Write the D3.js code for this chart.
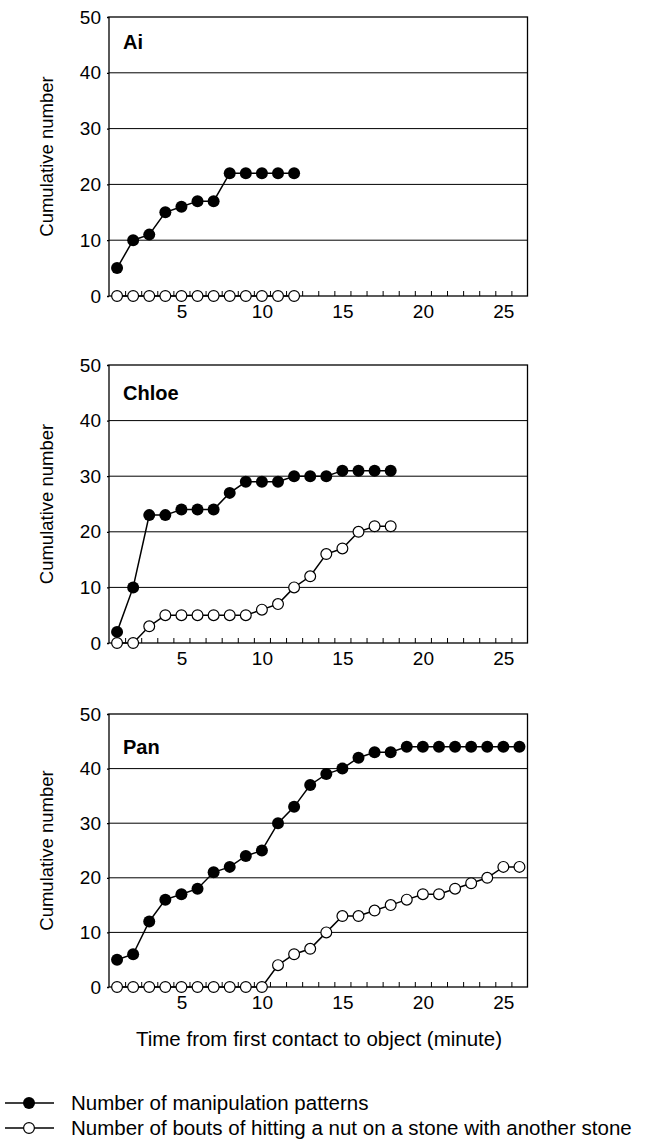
<!DOCTYPE html>
<html>
<head>
<meta charset="utf-8">
<script src="https://cdn.jsdelivr.net/npm/d3@7"></script>
<style>
  html, body { margin: 0; padding: 0; background: #fff; }
  svg { display: block; }
  text { font-family: "Liberation Sans", Arial, Helvetica, sans-serif; fill: #000; }
</style>
</head>
<body>
<svg id="chart" width="656" height="1141"></svg>
<script>
// minutes since first contact (one point per minute)
const minutes = d3.range(1, 27);

const subjects = ['Ai', 'Chloe', 'Pan'];

// cumulative number of manipulation patterns
const manipAi    = [5, 10, 11, 15, 16, 17, 17, 22, 22, 22, 22, 22];
const manipChloe = [2, 10, 23, 23, 24, 24, 24, 27, 29, 29, 29, 30, 30, 30, 31, 31, 31, 31];
const manipPan   = [5, 6, 12, 16, 17, 18, 21, 22, 24, 25, 30, 33, 37, 39, 40, 42, 43, 43, 44, 44, 44, 44, 44, 44, 44, 44];

// cumulative number of bouts of hitting a nut on a stone with another stone
const hitAi    = [0, 0, 0, 0, 0, 0, 0, 0, 0, 0, 0, 0];
const hitChloe = [0, 0, 3, 5, 5, 5, 5, 5, 5, 6, 7, 10, 12, 16, 17, 20, 21, 21];
const hitPan   = [0, 0, 0, 0, 0, 0, 0, 0, 0, 0, 4, 6, 7, 10, 13, 13, 14, 15, 16, 17, 17, 18, 19, 20, 22, 22];

const yTicks      = [0, 10, 20, 30, 40, 50];
const xTickLabels = [5, 10, 15, 20, 25];
const xTickMarks  = d3.range(1.5, 26, 1);

const legendLabels = [
    'Number of manipulation patterns',
    'Number of bouts of hitting a nut on a stone with another stone'
];

const manipSeries = [manipAi, manipChloe, manipPan];
const hitSeries   = [hitAi, hitChloe, hitPan];

// layout
const LEFT       = 109;
const RIGHT      = 527.5;
const PANEL_TOP  = [17, 365, 714];
const PANEL_BOT  = [296, 643, 987];
const LABEL_DY   = [32, 35, 40];
const DOT_R      = 6;

const svg = d3.select('#chart');

const x = d3.scaleLinear()
    .domain([0.5, 26.5])
    .range([LEFT, RIGHT]);

subjects.forEach((name, i) => {
    const top = PANEL_TOP[i];
    const bot = PANEL_BOT[i];

    const y = d3.scaleLinear()
        .domain([0, 50])
        .range([bot, top]);

    const g = svg.append('g').attr('class', 'panel');

    // horizontal grid lines
    g.selectAll('line.grid')
        .data(yTicks.slice(1, -1))
        .join('line')
        .attr('class', 'grid')
        .attr('x1', LEFT)
        .attr('x2', RIGHT)
        .attr('y1', d => y(d))
        .attr('y2', d => y(d))
        .attr('stroke', '#000')
        .attr('stroke-width', 1);

    // frame
    g.append('rect')
        .attr('x', LEFT)
        .attr('y', top)
        .attr('width', RIGHT - LEFT)
        .attr('height', bot - top)
        .attr('fill', 'none')
        .attr('stroke', '#000')
        .attr('stroke-width', 1.3);

    // minute ticks, pointing inside
    const tickAxis = d3.axisBottom(x)
        .tickValues(xTickMarks)
        .tickSizeInner(-5)
        .tickSizeOuter(0)
        .tickFormat('');
    g.append('g')
        .attr('transform', `translate(0,${bot})`)
        .call(tickAxis)
        .call(s => s.select('.domain').remove())
        .call(s => s.selectAll('line').attr('stroke', '#000').attr('stroke-width', 1));

    // x tick labels
    const labelAxis = d3.axisBottom(x)
        .tickValues(xTickLabels)
        .tickSize(0)
        .tickPadding(9);
    g.append('g')
        .attr('transform', `translate(0,${bot})`)
        .call(labelAxis)
        .call(s => s.select('.domain').remove())
        .call(s => s.selectAll('text')
            .style('font-family', '"Liberation Sans", Arial, sans-serif')
            .style('font-size', '19px')
            .attr('fill', '#000'));

    // y axis
    const yAxis = d3.axisLeft(y)
        .tickValues(yTicks)
        .tickSize(2)
        .tickPadding(6);
    g.append('g')
        .attr('transform', `translate(${LEFT},0)`)
        .call(yAxis)
        .call(s => s.select('.domain').remove())
        .call(s => s.selectAll('line').attr('stroke', '#000').attr('stroke-width', 1.3))
        .call(s => s.selectAll('text')
            .style('font-family', '"Liberation Sans", Arial, sans-serif')
            .style('font-size', '19px')
            .attr('fill', '#000'));

    // y title
    g.append('text')
        .attr('transform', `translate(47,${(top + bot) / 2}) rotate(-90)`)
        .attr('text-anchor', 'middle')
        .attr('dy', '0.35em')
        .style('font-size', '18.5px')
        .text('Cumulative number');

    // subject label
    g.append('text')
        .attr('x', 123)
        .attr('y', top + LABEL_DY[i])
        .style('font-size', '20px')
        .style('font-weight', 'bold')
        .text(name);

    const line = d3.line()
        .x((d, j) => x(minutes[j]))
        .y(d => y(d));

    // manipulation patterns (filled)
    const manip = manipSeries[i];
    g.append('path')
        .datum(manip)
        .attr('d', line)
        .attr('fill', 'none')
        .attr('stroke', '#000')
        .attr('stroke-width', 1.5);
    g.selectAll('circle.manip')
        .data(manip)
        .join('circle')
        .attr('class', 'manip')
        .attr('cx', (d, j) => x(minutes[j]))
        .attr('cy', d => y(d))
        .attr('r', DOT_R)
        .attr('fill', '#000');

    // hitting bouts (open)
    const hit = hitSeries[i];
    g.append('path')
        .datum(hit)
        .attr('d', line)
        .attr('fill', 'none')
        .attr('stroke', '#000')
        .attr('stroke-width', 1.5);
    g.selectAll('circle.hit')
        .data(hit)
        .join('circle')
        .attr('class', 'hit')
        .attr('cx', (d, j) => x(minutes[j]))
        .attr('cy', d => y(d))
        .attr('r', DOT_R - 0.6)
        .attr('fill', '#fff')
        .attr('stroke', '#000')
        .attr('stroke-width', 1.2);
});

// x title
svg.append('text')
    .attr('x', 319)
    .attr('y', 1046)
    .attr('text-anchor', 'middle')
    .style('font-size', '20.5px')
    .text('Time from first contact to object (minute)');

// legend
const legend = svg.append('g')
    .selectAll('g')
    .data(legendLabels)
    .join('g')
    .attr('transform', (d, i) => `translate(0,${1103 + i * 25})`);

legend.append('line')
    .attr('x1', 5)
    .attr('x2', 54)
    .attr('stroke', '#000')
    .attr('stroke-width', 1.5);

legend.append('circle')
    .attr('cx', 29)
    .attr('r', (d, i) => i === 0 ? DOT_R : DOT_R - 0.6)
    .attr('fill', (d, i) => i === 0 ? '#000' : '#fff')
    .attr('stroke', '#000')
    .attr('stroke-width', (d, i) => i === 0 ? 0 : 1.2);

legend.append('text')
    .attr('x', 71)
    .attr('dy', '0.35em')
    .style('font-size', '20.5px')
    .text(d => d);
</script>
</body>
</html>
